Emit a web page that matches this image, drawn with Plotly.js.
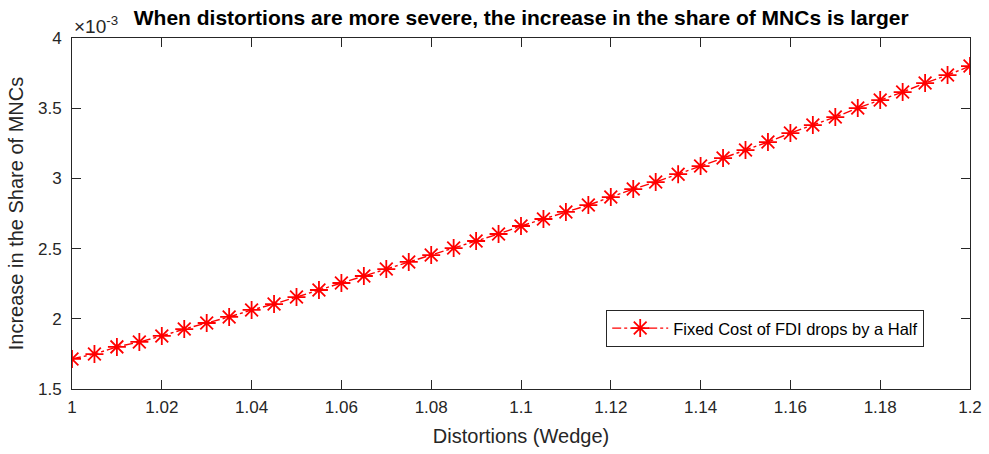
<!DOCTYPE html>
<html>
<head>
<meta charset="utf-8">
<script src="https://cdn.plot.ly/plotly-3.0.1.min.js"></script>
<style>
  html, body { margin: 0; padding: 0; background: #fff; }
  #chart { width: 989px; height: 454px; }
</style>
</head>
<body>
<div id="chart"></div>
<script>
// Wedge values (distortion level)
const wedge = [
  1.000, 1.005, 1.010, 1.015, 1.020, 1.025, 1.030, 1.035, 1.040, 1.045,
  1.050, 1.055, 1.060, 1.065, 1.070, 1.075, 1.080, 1.085, 1.090, 1.095,
  1.100, 1.105, 1.110, 1.115, 1.120, 1.125, 1.130, 1.135, 1.140, 1.145,
  1.150, 1.155, 1.160, 1.165, 1.170, 1.175, 1.180, 1.185, 1.190, 1.195,
  1.200
];

// Increase in the share of MNCs when the fixed cost of FDI is halved
const shareIncrease = [
  0.001714, 0.001749, 0.001800, 0.001835, 0.001878, 0.001927, 0.001970, 0.002013, 0.002063, 0.002105,
  0.002155, 0.002205, 0.002255, 0.002305, 0.002354, 0.002405, 0.002454, 0.002504, 0.002554, 0.002604,
  0.002661, 0.002711, 0.002761, 0.002810, 0.002867, 0.002924, 0.002974, 0.003030, 0.003088, 0.003145,
  0.003202, 0.003259, 0.003323, 0.003380, 0.003437, 0.003501, 0.003558, 0.003615, 0.003679, 0.003736,
  0.003800
];

const xTicks = [1, 1.02, 1.04, 1.06, 1.08, 1.1, 1.12, 1.14, 1.16, 1.18, 1.2];
const xTickText = ['1', '1.02', '1.04', '1.06', '1.08', '1.1', '1.12', '1.14', '1.16', '1.18', '1.2'];
const yTicks = [0.0015, 0.002, 0.0025, 0.003, 0.0035, 0.004];
const yTickText = ['1.5', '2', '2.5', '3', '3.5', '4'];

const axisColor = '#262626';
const font = 'Liberation Sans, Arial, sans-serif';

const trace = {
  x: wedge,
  y: shareIncrease,
  type: 'scatter',
  mode: 'lines+markers',
  name: 'Fixed Cost of FDI drops by a Half',
  line: { color: '#ff0000', width: 1.4, dash: 'dashdot' },
  marker: {
    symbol: 'asterisk-open',
    size: 15,
    color: '#ff0000',
    line: { color: '#ff0000', width: 1.8 }
  }
};

const axisCommon = {
  showgrid: false,
  zeroline: false,
  showline: true,
  linecolor: axisColor,
  linewidth: 1,
  mirror: 'ticks',
  ticks: 'inside',
  ticklen: 9,
  tickwidth: 1,
  tickcolor: axisColor,
  tickfont: { family: font, size: 17, color: axisColor }
};

const layout = {
  width: 989,
  height: 454,
  margin: { l: 72, r: 19, t: 38, b: 65 },
  paper_bgcolor: '#ffffff',
  plot_bgcolor: '#ffffff',
  font: { family: font, color: axisColor },
  title: {
    text: '<b>When distortions are more severe, the increase in the share of MNCs is larger</b>',
    font: { family: font, size: 21, color: '#000000' },
    x: 0.527,
    xanchor: 'center',
    y: 0.962,
    yanchor: 'middle'
  },
  xaxis: Object.assign({}, axisCommon, {
    range: [1, 1.2],
    tickvals: xTicks,
    ticktext: xTickText,
    ticklabelstandoff: 3,
    title: { text: 'Distortions (Wedge)', font: { family: font, size: 20, color: axisColor }, standoff: 12 }
  }),
  yaxis: Object.assign({}, axisCommon, {
    range: [0.0015, 0.004],
    tickvals: yTicks,
    ticktext: yTickText,
    ticklabelstandoff: 6,
    title: { text: 'Increase in the Share of MNCs', font: { family: font, size: 20, color: axisColor }, standoff: 8 }
  }),
  showlegend: true,
  legend: {
    x: 0.949,
    xanchor: 'right',
    y: 0.12,
    yanchor: 'bottom',
    itemwidth: 56,
    bgcolor: '#ffffff',
    bordercolor: axisColor,
    borderwidth: 1,
    font: { family: font, size: 16.5, color: '#000000' }
  },
  annotations: [{
    xref: 'paper', yref: 'paper',
    x: 0, y: 1,
    xanchor: 'left', yanchor: 'bottom',
    yshift: -1,
    showarrow: false,
    text: '×10<sup>-3</sup>',
    font: { family: font, size: 19, color: axisColor }
  }]
};

Plotly.newPlot('chart', [trace], layout, { displayModeBar: false, staticPlot: true });
</script>
</body>
</html>
